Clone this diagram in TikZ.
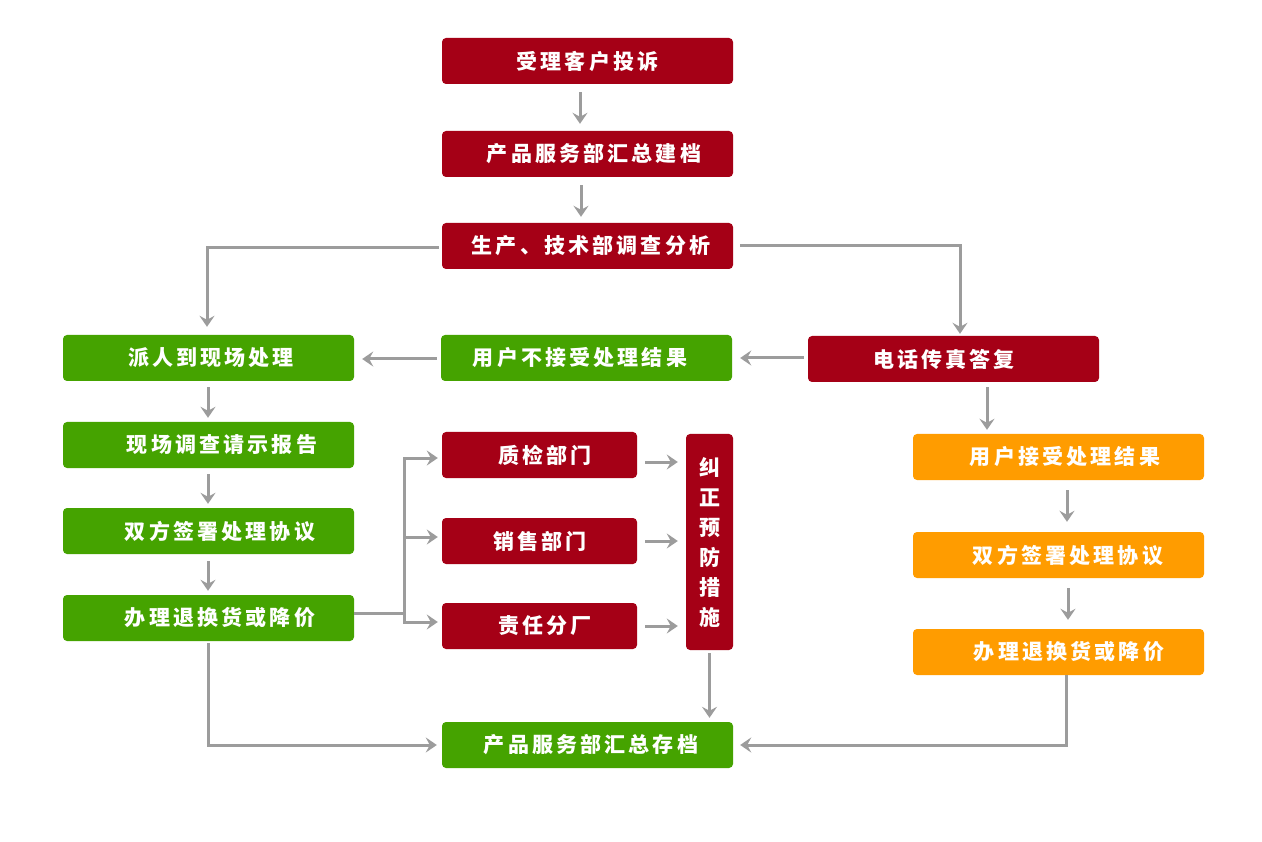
\documentclass[tikz,border=0pt]{standalone}
\usepackage{fontspec}
\newfontfamily\cjk[LetterSpace=15]{Noto Sans CJK SC}
\newfontfamily\cjkv{Noto Sans CJK SC}
\usetikzlibrary{arrows.meta,calc}
\definecolor{cred}{HTML}{A50016}
\definecolor{cgreen}{HTML}{45A300}
\definecolor{corange}{HTML}{FF9C00}
\definecolor{cgray}{HTML}{9C9C9C}
\newcommand\sh[2]{\hspace*{#1pt}#2}
\begin{document}
\begin{tikzpicture}[x=1pt,y=-1pt,
  box/.style={rounded corners=4pt, minimum height=46pt, minimum width=291pt, inner sep=0pt, text=white, font=\cjk\bfseries\fontsize{21}{24}\selectfont},
  rbox/.style={box, fill=cred},
  gbox/.style={box, fill=cgreen},
  obox/.style={box, fill=corange},
  line/.style={draw=cgray, line width=3pt},
  arr/.style={line, -{Stealth[length=11pt,width=15pt,inset=4pt]}}]
\useasboundingbox[fill=white] (0,0) rectangle (1262,842);
% nodes
\node[rbox] (n1) at (587.5,61) {\sh{0}{受理客户投诉}};
\node[rbox] (n2) at (587.5,154) {\sh{13}{产品服务部汇总建档}};
\node[rbox] (n3) at (587.5,246) {\sh{7}{生产、技术部调查分析}};
\node[gbox] (n4) at (208.5,358) {\sh{5}{派人到现场处理}};
\node[gbox] (n5) at (586.5,358) {\sh{-13}{用户不接受处理结果}};
\node[rbox] (n6) at (953.5,359) {\sh{-19}{电话传真答复}};
\node[gbox] (n7) at (208.5,445) {\sh{27}{现场调查请示报告}};
\node[gbox] (n8) at (208.5,531) {\sh{23}{双方签署处理协议}};
\node[gbox] (n9) at (208.5,618) {\sh{23}{办理退换货或降价}};
\node[rbox, minimum width=195pt] (q1) at (539.5,455) {\sh{11}{质检部门}};
\node[rbox, minimum width=195pt] (q2) at (539.5,541) {\sh{1}{销售部门}};
\node[rbox, minimum width=195pt] (q3) at (539.5,626) {\sh{11}{责任分厂}};
\node[rbox, minimum width=47pt, minimum height=216pt, align=center, font=\cjkv\bfseries\fontsize{21}{30}\selectfont] (k) at (709.5,542) {纠\\正\\预\\防\\措\\施};
\node[obox] (o1) at (1058.5,457) {\sh{13}{用户接受处理结果}};
\node[obox] (o2) at (1058.5,555) {\sh{19}{双方签署处理协议}};
\node[obox] (o3) at (1058.5,652) {\sh{21}{办理退换货或降价}};
\node[gbox] (n17) at (587.5,745) {\sh{7}{产品服务部汇总存档}};
% connectors
\draw[arr] ($(n1.south)+(-7.5,8)$) -- ($(n2.north)+(-7.5,-7)$);
\draw[arr] ($(n2.south)+(-6.5,8)$) -- ($(n3.north)+(-6.5,-6)$);
\draw[arr] ($(n3.west)+(-3,2)$) -| ($(n4.north)+(-1.5,-8)$);
\draw[arr] ($(n3.east)+(7,0)$) -| ($(n6.north)+(6.5,-2)$);
\draw[arr] ($(n6.west)+(-4,-1)$) -- ($(n5.east)+(8,0)$);
\draw[arr] ($(n5.west)+(-4,1)$) -- ($(n4.east)+(8,1)$);
\draw[arr] ($(n4.south)+(-0.5,6)$) -- ($(n7.north)+(-0.5,-4)$);
\draw[arr] ($(n7.south)+(-0.5,6)$) -- ($(n8.north)+(-0.5,-4)$);
\draw[arr] ($(n8.south)+(-0.5,7)$) -- ($(n9.north)+(-0.5,-4)$);
\coordinate (bj) at (404,613);
\coordinate (bt) at (404,458);
\coordinate (bm) at (404,537);
\coordinate (bb) at (404,622);
\draw[line] ($(n9.east)+(0,-5)$) -- (bj);
\draw[arr] (bj) -- (bt) -- ($(bt -| q1.west)+(-4,0)$);
\draw[arr] (bj) -- (bb) -- ($(bb -| q3.west)+(-4,0)$);
\draw[arr] (bm) -- ($(bm -| q2.west)+(-4,0)$);
\draw[arr] ($(q1.east)+(8,7)$) -- ($(q1.east -| k.west)+(-8,7)$);
\draw[arr] ($(q2.east)+(8,0)$) -- ($(q2.east -| k.west)+(-8,0)$);
\draw[arr] ($(q3.east)+(8,0)$) -- ($(q3.east -| k.west)+(-8,0)$);
\draw[arr] ($(k.south)+(0,3)$) -- ($(k.south |- n17.north)+(0,-4)$);
\draw[arr] ($(n9.south)+(-0.5,2)$) |- ($(n17.west)+(-5,0)$);
\draw[arr] ($(n6.south)+(33.5,5)$) -- ($(o1.north)+(-71.5,-4)$);
\draw[arr] ($(o1.south)+(8.5,10)$) -- ($(o2.north)+(8.5,-10)$);
\draw[arr] ($(o2.south)+(9.5,10)$) -- ($(o3.north)+(9.5,-9)$);
\draw[arr] ($(o3.south)+(7.5,0)$) |- ($(n17.east)+(7,0)$);
\end{tikzpicture}
\end{document}
